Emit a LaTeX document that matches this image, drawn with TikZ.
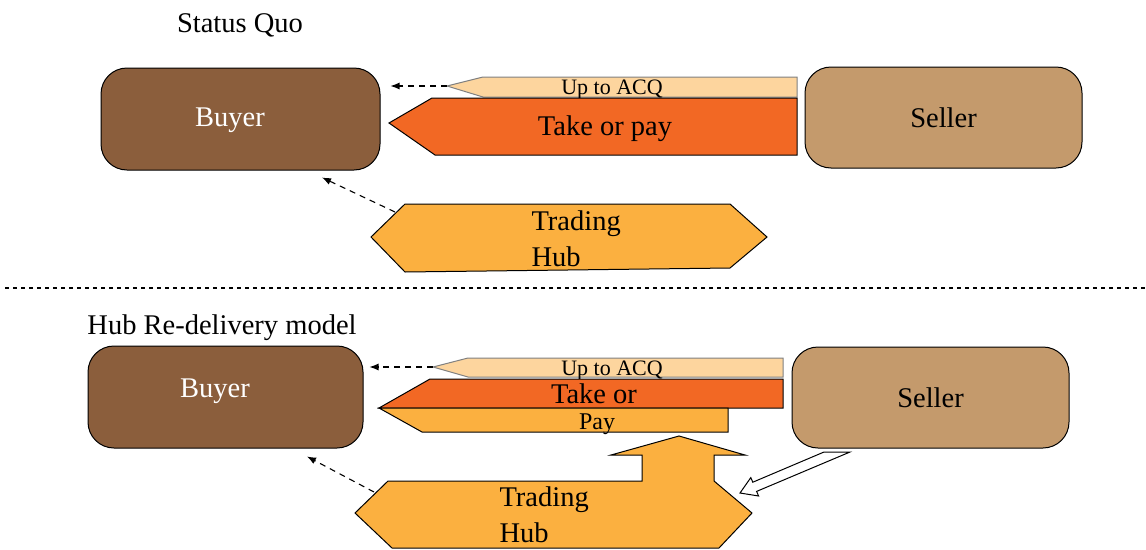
\documentclass[tikz,border=0pt]{standalone}
\usepackage{fontspec}
\setmainfont{Liberation Serif}
\usetikzlibrary{arrows.meta}
\definecolor{buyerc}{RGB}{139,94,60}
\definecolor{sellerc}{RGB}{196,154,108}
\definecolor{peach}{RGB}{253,213,158}
\definecolor{topc}{RGB}{242,104,36}
\definecolor{hubc}{RGB}{251,176,64}
\tikzset{
  party/.style={draw=black, line width=1pt, rounded corners=26pt, inner sep=0pt},
  bigfont/.style={font=\fontsize{28.5}{36}\selectfont},
  bigtxt/.style={bigfont, yshift=-3pt},
  smalltxt/.style={font=\fontsize{22}{24}\selectfont, yshift=-3pt},
  acqshape/.style={draw=gray, line width=1pt, fill=peach},
  topshape/.style={draw=black, line width=1pt, fill=topc},
  hubshape/.style={draw=black, line width=1pt, fill=hubc},
  dasharrow/.style={dashed, dash pattern=on 6pt off 5pt, line width=1.1pt, -{Latex[length=9pt,width=7pt]}},
}
\begin{document}
\begin{tikzpicture}[x=1pt,y=-1pt]
\useasboundingbox (0,0) rectangle (1146,549);

% ---------- Status quo ----------
\node[bigtxt] (title1) at (240,22) {Status Quo};
\node[party, fill=buyerc, minimum width=279pt, minimum height=102pt] (buyer1) at (240.5,119) {};
\node[bigtxt, text=white] (buyer1t) at (230,117) {Buyer};
\node[party, fill=sellerc, minimum width=277pt, minimum height=101pt, bigfont] (seller1) at (943.5,117.5) {Seller};

\draw[acqshape] (447,86) coordinate (acq1tip) -- (483,77) -- (797,77) -- (797,97) -- (483,97) -- cycle;
\node[smalltxt] (acq1) at (612,87) {Up to ACQ};
\draw[topshape] (389,123) -- (432,98) -- (797,98) -- (797,155) -- (435,155) -- cycle;
\node[bigtxt] (top1) at (605,126) {Take or pay};

\draw[hubshape] (371,237) -- (405,204) coordinate (hub1tl) -- (730,204) -- (767,237) -- (730,268) -- (405,272) -- cycle;
\node[bigfont, align=left, anchor=west] (hub1) at (528,239) {Trading\\Hub};
\coordinate (hub1out) at (395,212);

\draw[dasharrow] (acq1tip) -- ([xshift=10pt]buyer1.east |- acq1tip);
\draw[dasharrow] (hub1out) -- ([shift={(81.5pt,-7pt)}]buyer1.south);

% ---------- divider ----------
\draw[line width=1.6pt, dash pattern=on 4pt off 4pt] (5,288) -- (1146,288);

% ---------- Hub re-delivery ----------
\node[bigtxt] (title2) at (222,325) {Hub Re-delivery model};
\node[party, fill=buyerc, minimum width=275pt, minimum height=102pt] (buyer2) at (225.5,397) {};
\node[bigtxt, text=white] (buyer2t) at (215,388) {Buyer};
\node[party, fill=sellerc, minimum width=277pt, minimum height=101pt, bigfont] (seller2) at (930.5,397.5) {Seller};

\draw[acqshape] (433,367) coordinate (acq2tip) -- (468,358) -- (783,358) -- (783,377) -- (468,377) -- cycle;
\node[smalltxt] (acq2) at (612,368) {Up to ACQ};
\draw[topshape] (379,408) -- (430,379) -- (783,379) -- (783,408) -- cycle;
\node[bigfont, inner sep=1pt, yshift=1pt] (top2) at (594,395) {Take or};
\draw[hubshape] (379,408) -- (728,408) -- (728,432) -- (422,432) -- cycle;
\node[font=\fontsize{24}{24}\selectfont, inner sep=1pt, yshift=-3pt] (pay2) at (597,421) {Pay};

\draw[hubshape] (355,513) -- (388,481) -- (642,481) -- (642,455) -- (611,455) -- (679,436)
  -- (745,455) -- (714,455) -- (714,481) -- (752,513) -- (719,548) -- (392,548) -- cycle;
\node[bigfont, align=left, anchor=west] (hub2) at (496,515) {Trading\\Hub};
\coordinate (hub2out) at (374,492);

\draw[dasharrow] (acq2tip) -- ([xshift=6pt]buyer2.east |- acq2tip);
\draw[dasharrow] (hub2out) -- ([shift={(81.5pt,-8pt)}]buyer2.south);

% hollow arrow seller -> hub
\draw[line width=1pt, fill=white] (824,452) -- (752.8,482.2) -- (750.8,477.6) -- (740,493)
  -- (758.6,496) -- (756.6,491.4) -- (850,452) -- cycle;
\end{tikzpicture}
\end{document}
